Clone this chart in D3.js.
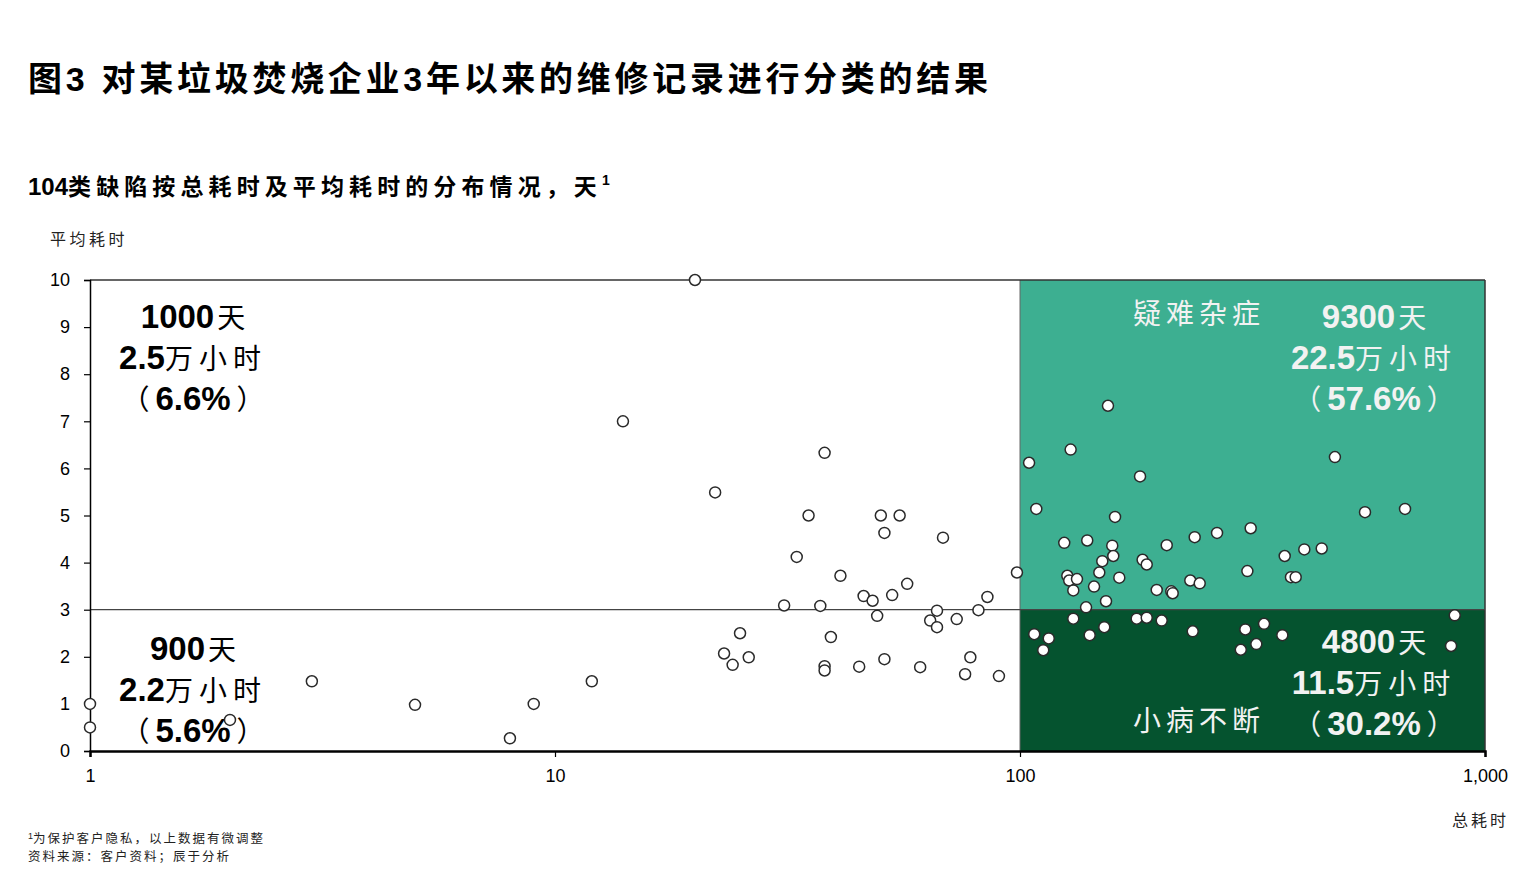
<!DOCTYPE html>
<html><head><meta charset="utf-8">
<script src="https://cdn.jsdelivr.net/npm/d3@7/dist/d3.min.js"></script>
<style>
html,body{margin:0;padding:0;background:#fff;}
svg{display:block;}
</style></head>
<body>
<svg id="c" width="1536" height="874"></svg>
<script>
// ---- data ----
const totalTime = [
  1, 1, 2, 3, 5, 8, 9, 12, 14, 20,
  22.1, 38.0, 35.1, 50.2, 55.1, 51.1, 68.3, 33.1, 41.1, 98.5,
  57.2, 46.1, 48.2, 53.1, 85.1, 31.1, 37.2, 49.3, 66.3, 81.4,
  64.1, 73.1, 66.3, 39.2, 25.0, 23.1, 24.1, 26.1, 38.0, 38.0,
  45.1, 51.1, 61.0, 78.2, 76.2, 90.1,
  154.6, 128.5, 104.6, 181.2, 475.6, 108.4, 160.1, 552, 673, 124.5,
  139.5, 157.9, 158.7, 206.8, 237.5, 265.3, 313.4, 370.9, 408.7, 445.5,
  150.3, 183.5, 187.3, 126.4, 127.6, 132.6, 148.1, 163.5, 144.3, 130.2,
  196.8, 211.5, 213, 232.4, 243.5, 308.3, 382.6, 391.6, 153.1, 138.7,
  130.2, 178.2, 187.3, 201.7, 107.3, 115.3, 112.2, 141.2, 151.8, 235.2,
  305.2, 334.8, 366.6, 322.3, 298.4, 860.8, 845.3
];
const avgTime = [
  1.0, 0.5, 0.66, 1.48, 0.98, 0.27, 1.0, 1.48, 7.0, 10.0,
  5.49, 6.33, 5.0, 5.0, 5.0, 4.63, 4.53, 4.12, 3.72, 3.79,
  3.55, 3.29, 3.19, 3.31, 3.27, 3.09, 3.08, 2.87, 2.98, 2.99,
  2.77, 2.80, 2.63, 2.42, 2.50, 2.07, 1.83, 1.99, 1.80, 1.71,
  1.79, 1.95, 1.78, 1.99, 1.63, 1.59,
  7.33, 6.40, 6.12, 5.83, 6.24, 5.14, 4.97, 5.07, 5.14, 4.42,
  4.47, 4.36, 4.14, 4.37, 4.54, 4.63, 4.73, 4.14, 4.28, 4.30,
  4.03, 4.06, 3.96, 3.72, 3.62, 3.65, 3.79, 3.68, 3.49, 3.41,
  3.42, 3.39, 3.35, 3.62, 3.56, 3.82, 3.69, 3.69, 3.18, 3.05,
  2.81, 2.81, 2.83, 2.77, 2.48, 2.39, 2.14, 2.46, 2.63, 2.54,
  2.58, 2.70, 2.46, 2.27, 2.15, 2.88, 2.23
];
const xTicks = [1, 10, 100, 1000];
const xTickLabels = ["1", "10", "100", "1,000"];
const yTicks = [0,1,2,3,4,5,6,7,8,9,10];
const xSplit = 100, ySplit = 3;
const titleText = "图3 对某垃圾焚烧企业3年以来的维修记录进行分类的结果";
const subtitleNum = "104";
const subtitleText = "类缺陷按总耗时及平均耗时的分布情况，天";
const yAxisTitle = "平均耗时";
const xAxisTitle = "总耗时";
const footnotes = ["为保护客户隐私，以上数据有微调整", "资料来源：客户资料；辰于分析"];
const quadrantNames = ["疑难杂症", "小病不断"];
// each annotation: [days, 万小时, percent]
const quadTL = ["1000", "2.5", "6.6%"];
const quadBL = ["900", "2.2", "5.6%"];
const quadTR = ["9300", "22.5", "57.6%"];
const quadBR = ["4800", "11.5", "30.2%"];

// ---- drawing ----
const svg = d3.select("#c");
const W = 1536, H = 874;
const m = {left: 90, right: 1485, top: 280, bottom: 751};
const x = d3.scaleLog().domain([1, 1000]).range([m.left, m.right]);
const y = d3.scaleLinear().domain([0, 10]).range([m.bottom, m.top]);
const LAT = "'Liberation Sans', Arial, 'Noto Sans CJK SC', sans-serif";
const CJK = "'Noto Sans CJK SC', sans-serif";

svg.append("rect").attr("width", W).attr("height", H).attr("fill", "#fff");

// title
svg.append("text").attr("x", 28).attr("y", 91)
  .attr("font-family", LAT).attr("font-weight", "bold").attr("font-size", 34)
  .attr("textLength", 960).attr("lengthAdjust", "spacing")
  .attr("fill", "#000").text(titleText);

const st = svg.append("text").attr("x", 28).attr("y", 195).attr("fill", "#000").attr("font-weight", "bold");
st.append("tspan").attr("font-family", LAT).attr("font-size", 24).text(subtitleNum);
st.append("tspan").attr("font-family", CJK).attr("font-size", 23).attr("letter-spacing", 5.1).text(subtitleText);
svg.append("text").attr("x", 602).attr("y", 185)
  .attr("font-family", LAT).attr("font-weight", "bold").attr("font-size", 14)
  .attr("fill", "#000").text("1");

svg.append("text").attr("x", 50).attr("y", 245)
  .attr("font-family", CJK).attr("font-size", 16).attr("letter-spacing", 3.5)
  .attr("fill", "#222").text(yAxisTitle);
svg.append("text").attr("x", 1452).attr("y", 826)
  .attr("font-family", CJK).attr("font-size", 16).attr("letter-spacing", 3)
  .attr("fill", "#222").text(xAxisTitle);

footnotes.forEach((t, i) => {
  const ft = svg.append("text").attr("x", 28).attr("y", 843 + i * 18).attr("fill", "#222");
  if (i === 0) ft.append("tspan").attr("font-family", LAT).attr("font-size", 9).attr("dy", -4).text("1");
  ft.append("tspan").attr("font-family", CJK).attr("font-size", 12.5).attr("letter-spacing", 2)
    .attr("dy", i === 0 ? 4 : 0).text(t);
});

// quadrant backgrounds
svg.append("rect").attr("x", x(xSplit)).attr("y", y(10)).attr("width", x(1000) - x(xSplit))
  .attr("height", y(ySplit) - y(10)).attr("fill", "#3daf91");
svg.append("rect").attr("x", x(xSplit)).attr("y", y(ySplit)).attr("width", x(1000) - x(xSplit))
  .attr("height", y(0) - y(ySplit)).attr("fill", "#05532f");
svg.append("line").attr("x1", x(xSplit)).attr("x2", x(xSplit)).attr("y1", y(10)).attr("y2", y(0))
  .attr("stroke", "#666").attr("stroke-width", 1);

// plot frame top & right
svg.append("line").attr("x1", m.left).attr("x2", m.right).attr("y1", m.top).attr("y2", m.top)
  .attr("stroke", "#333").attr("stroke-width", 1.5);
svg.append("line").attr("x1", m.right).attr("x2", m.right).attr("y1", m.top).attr("y2", m.bottom)
  .attr("stroke", "#333").attr("stroke-width", 1.5);
// split line at 3
svg.append("line").attr("x1", m.left).attr("x2", m.right).attr("y1", y(ySplit)).attr("y2", y(ySplit))
  .attr("stroke", "#444").attr("stroke-width", 1.2);

// axes
const yAxis = d3.axisLeft(y).tickValues(yTicks).tickSize(6).tickPadding(14).tickFormat(d3.format("d"));
const gy = svg.append("g").attr("transform", `translate(${m.left},0)`).call(yAxis);
gy.select(".domain").attr("stroke", "#000").attr("stroke-width", 1.5);
gy.selectAll(".tick line").attr("stroke", "#000").attr("stroke-width", 1.2);
gy.selectAll(".tick text").attr("font-family", LAT).attr("font-size", 18).attr("fill", "#000");

const xAxis = d3.axisBottom(x).tickValues(xTicks).tickSize(6).tickPadding(12)
  .tickFormat((d, i) => xTickLabels[i]);
const gx = svg.append("g").attr("transform", `translate(0,${m.bottom})`).call(xAxis);
gx.select(".domain").attr("stroke", "#000").attr("stroke-width", 2.5);
gx.selectAll(".tick line").attr("stroke", "#000").attr("stroke-width", 1.2);
gx.selectAll(".tick text").attr("font-family", LAT).attr("font-size", 18).attr("fill", "#000");

// annotations
function quadLabel(cx, y0, vals, color) {
  const lh = 41;
  const t1 = svg.append("text").attr("x", cx).attr("y", y0).attr("text-anchor", "middle").attr("fill", color);
  t1.append("tspan").attr("font-family", LAT).attr("font-weight", "bold").attr("font-size", 33).text(vals[0]);
  t1.append("tspan").attr("font-family", CJK).attr("font-size", 28).attr("dx", 3).text("天");
  const t2 = svg.append("text").attr("x", cx).attr("y", y0 + lh).attr("text-anchor", "middle").attr("fill", color);
  t2.append("tspan").attr("font-family", LAT).attr("font-weight", "bold").attr("font-size", 33).text(vals[1]);
  t2.append("tspan").attr("font-family", CJK).attr("font-size", 28).attr("letter-spacing", 6).text("万小时");
  const t3 = svg.append("text").attr("x", cx).attr("y", y0 + 2 * lh).attr("text-anchor", "middle").attr("fill", color);
  t3.append("tspan").attr("font-family", CJK).attr("font-size", 28).text("（");
  t3.append("tspan").attr("font-family", LAT).attr("font-weight", "bold").attr("font-size", 33).attr("dx", 6).text(vals[2]);
  t3.append("tspan").attr("font-family", CJK).attr("font-size", 28).attr("dx", 6).text("）");
}
quadLabel(193, 328, quadTL, "#000");
quadLabel(193, 660, quadBL, "#000");
quadLabel(1374, 328, quadTR, "#f2f2f2");
quadLabel(1374, 653, quadBR, "#f2f2f2");

svg.append("text").attr("x", 1133).attr("y", 324).attr("font-family", CJK).attr("font-size", 28)
  .attr("letter-spacing", 5).attr("fill", "#f2f2f2").text(quadrantNames[0]);
svg.append("text").attr("x", 1133).attr("y", 731).attr("font-family", CJK).attr("font-size", 28)
  .attr("letter-spacing", 5).attr("fill", "#f2f2f2").text(quadrantNames[1]);

// points
const pts = totalTime.map((v, i) => ({t: v, a: avgTime[i]}));
svg.append("g").selectAll("circle").data(pts).join("circle")
  .attr("cx", d => x(d.t)).attr("cy", d => y(d.a)).attr("r", 5.5)
  .attr("fill", "#fff").attr("stroke", "#2a2a2a").attr("stroke-width", 1.5);
</script>
</body></html>
